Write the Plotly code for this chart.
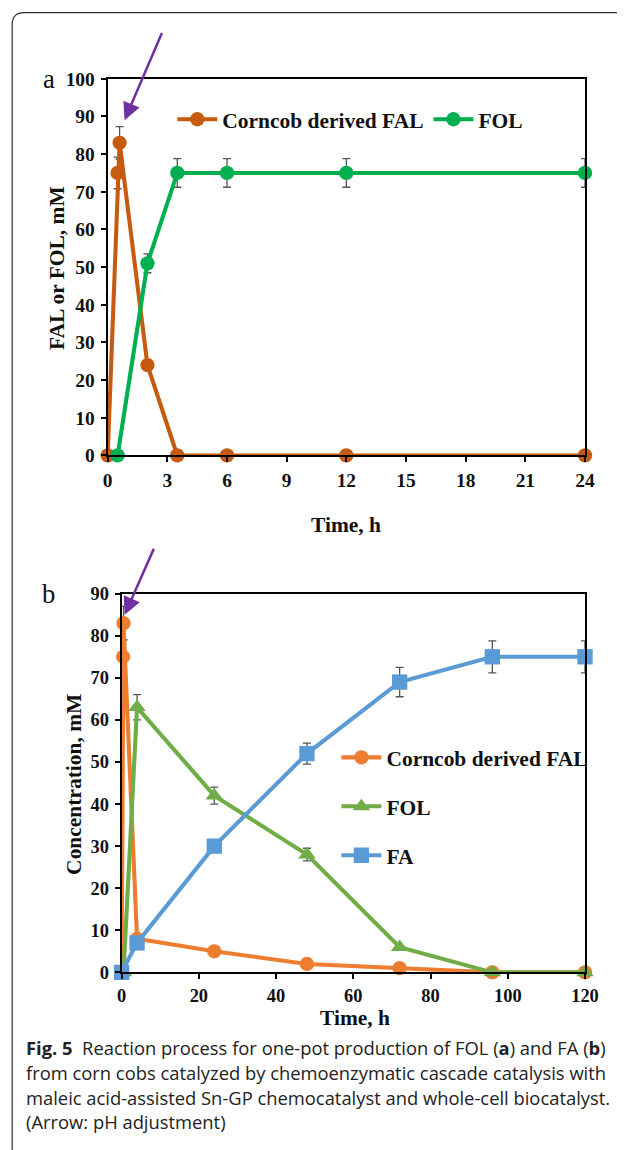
import plotly.graph_objects as go

# ---------------- data ----------------
# Panel a
a_fal_t = [0, 0.5, 0.6, 2, 3.5, 6, 12, 24]
a_fal_y = [0, 75, 83, 24, 0, 0, 0, 0]
a_fal_err = [0, 4.2, 4.3, 0, 0, 0, 0, 0]
a_fol_t = [0.5, 2, 3.5, 6, 12, 24]
a_fol_y = [0, 51, 75, 75, 75, 75]
a_fol_err = [0, 2.5, 3.8, 3.8, 3.8, 3.8]
a_xticks = [0, 3, 6, 9, 12, 15, 18, 21, 24]
a_yticks = [0, 10, 20, 30, 40, 50, 60, 70, 80, 90, 100]

# Panel b
b_fal_t = [0, 0.4, 0.5, 4, 24, 48, 72, 96, 120]
b_fal_y = [0, 75, 83, 8, 5, 2, 1, 0, 0]
b_fal_err = [0, 4, 4, 0, 0, 0, 0, 0, 0]
b_fol_t = [0.5, 4, 24, 48, 72, 96, 120]
b_fol_y = [0, 63, 42, 28, 6, 0, 0]
b_fol_err = [0, 3, 2, 1.5, 0, 0, 0]
b_fa_t = [0, 4, 24, 48, 72, 96, 120]
b_fa_y = [0, 7, 30, 52, 69, 75, 75]
b_fa_err = [0, 0, 0, 2.5, 3.5, 3.8, 3.8]
b_xticks = [0, 20, 40, 60, 80, 100, 120]
b_yticks = [0, 10, 20, 30, 40, 50, 60, 70, 80, 90]

caption_lines = [
    "<b>Fig. 5</b>&nbsp;&nbsp;Reaction process for one-pot production of FOL (<b>a</b>) and FA (<b>b</b>)",
    "from corn cobs catalyzed by chemoenzymatic cascade catalysis with",
    "maleic acid-assisted Sn-GP chemocatalyst and whole-cell biocatalyst.",
    "(Arrow: pH adjustment)",
]

# ---------------- layout helpers ----------------
FW, FH = 625, 1150
BODY = 8
SX, OX = 0.975, 3.0     # page -> picture mapping observed in the renderer
SY, OY = 0.98, 10.5
K = 1 / 0.9775          # size compensation


def fx(xr):
    return ((xr - OX) / SX - BODY) / FW


def fy(yr):
    return 1 - ((yr - OY) / SY - BODY) / FH


def s(v):
    return v * K


SERIF = "Liberation Serif, Times New Roman, serif"
C_A_FAL = "#C55A11"
C_A_FOL = "#00B050"
C_B_FAL = "#ED7D31"
C_B_FOL = "#70AD47"
C_B_FA = "#5B9BD5"
ERR_C = "#555555"
PURPLE = "#7030A0"
TXT = "#111111"

fig = go.Figure()


def err(arr):
    return dict(type="data", array=arr, visible=True, color=ERR_C, thickness=1.3, width=4)


LW = s(4)
fig.add_trace(go.Scatter(x=a_fal_t, y=a_fal_y, name="Corncob derived FAL", mode="lines+markers",
                         line=dict(color=C_A_FAL, width=LW), marker=dict(size=s(14), color=C_A_FAL),
                         error_y=err(a_fal_err), xaxis="x", yaxis="y", legend="legend",
                         cliponaxis=False))
fig.add_trace(go.Scatter(x=a_fol_t, y=a_fol_y, name="FOL", mode="lines+markers",
                         line=dict(color=C_A_FOL, width=LW), marker=dict(size=s(14), color=C_A_FOL),
                         error_y=err(a_fol_err), xaxis="x", yaxis="y", legend="legend",
                         cliponaxis=False))

fig.add_trace(go.Scatter(x=b_fal_t, y=b_fal_y, name="Corncob derived FAL", mode="lines+markers",
                         line=dict(color=C_B_FAL, width=LW), marker=dict(size=s(14), color=C_B_FAL),
                         error_y=err(b_fal_err), xaxis="x2", yaxis="y2", legend="legend2",
                         legendgroup="g1", cliponaxis=False))
fig.add_trace(go.Scatter(x=b_fol_t, y=b_fol_y, name="FOL", mode="lines+markers",
                         line=dict(color=C_B_FOL, width=LW),
                         marker=dict(size=s(15), color=C_B_FOL, symbol="triangle-up"),
                         error_y=err(b_fol_err), xaxis="x2", yaxis="y2", legend="legend2",
                         legendgroup="g2", cliponaxis=False))
fig.add_trace(go.Scatter(x=b_fa_t, y=b_fa_y, name="FA", mode="lines+markers",
                         line=dict(color=C_B_FA, width=LW),
                         marker=dict(size=s(15), color=C_B_FA, symbol="square"),
                         error_y=err(b_fa_err), xaxis="x2", yaxis="y2", legend="legend2",
                         legendgroup="g3", cliponaxis=False))


def axis_style(size):
    return dict(showline=True, linecolor="black", linewidth=2, mirror=True, ticks="outside",
                ticklen=5, tickwidth=2, tickcolor="black", showgrid=False, zeroline=False,
                tickfont=dict(family=SERIF, size=s(size), color=TXT, weight="bold"))


legfont = dict(family=SERIF, size=s(21), color=TXT, weight="bold")
fig.update_layout(
    width=FW, height=FH, margin=dict(l=0, r=0, t=0, b=0),
    paper_bgcolor="white", plot_bgcolor="white",
    xaxis=dict(domain=[fx(106), fx(586)], range=[0, 24], tickvals=a_xticks, anchor="y",
               ticklabelstandoff=1, **axis_style(19)),
    yaxis=dict(domain=[fy(455), fy(79)], range=[0, 100], tickvals=a_yticks, anchor="x",
               ticklabelstandoff=2, **axis_style(19)),
    xaxis2=dict(domain=[fx(120), fx(586)], range=[0, 120], tickvals=b_xticks, anchor="y2",
                ticklabelstandoff=1, **axis_style(18)),
    yaxis2=dict(domain=[fy(971), fy(593)], range=[0, 90], tickvals=b_yticks, anchor="x2",
                ticklabelstandoff=2, **axis_style(18)),
    legend=dict(orientation="h", x=fx(171), y=fy(99), xanchor="left", yanchor="top",
                font=legfont, bgcolor="rgba(0,0,0,0)", itemwidth=40, tracegroupgap=0),
    legend2=dict(orientation="v", x=fx(336), y=fy(736), xanchor="left", yanchor="top",
                 font=legfont, bgcolor="rgba(0,0,0,0)", itemwidth=40, tracegroupgap=18),
    showlegend=True,
)


def label(text, x, y, size, angle=0, family=SERIF, color=TXT, xanchor="center"):
    return dict(text=text, x=fx(x), y=fy(y), xref="paper", yref="paper", showarrow=False,
                textangle=angle, xanchor=xanchor, yanchor="middle",
                font=dict(family=family, size=s(size), color=color))


annotations = [
    label("a", 47, 79, 26),
    label("b", 47, 593, 26),
    label("<b>FAL or FOL, mM</b>", 55, 268, 21, angle=-90),
    label("<b>Concentration, mM</b>", 72, 783, 21, angle=-90),
    label("<b>Time, h</b>", 346, 524, 21),
    label("<b>Time, h</b>", 355, 1017, 21),
    # pH adjustment arrows
    dict(x=0.85, y=89, xref="x", yref="y", ax=37 / SX, ay=-87 / SY, showarrow=True,
         arrowhead=2, arrowsize=1.4, arrowwidth=2.5, arrowcolor=PURPLE, text=""),
    dict(x=0.8, y=85, xref="x2", yref="y2", ax=29 / SX, ay=-66 / SY, showarrow=True,
         arrowhead=2, arrowsize=1.4, arrowwidth=2.5, arrowcolor=PURPLE, text=""),
]
cap_y = [1046, 1071, 1096, 1120]
for line, yy in zip(caption_lines, cap_y):
    annotations.append(label(line, 22, yy, 17.95, family="Open Sans, sans-serif",
                             color="#222222", xanchor="left"))
fig.update_layout(annotations=annotations)

# rounded frame around the figure panel
r = 12
x0, y0, x1, y1 = 10, 13, 700, 1200
path = (f"M {fx(x0)},{fy(y0 + r)} Q {fx(x0)},{fy(y0)} {fx(x0 + r)},{fy(y0)} "
        f"L {fx(x1)},{fy(y0)} L {fx(x1)},{fy(y1)} L {fx(x0)},{fy(y1)} Z")
fig.add_shape(type="path", path=path, xref="paper", yref="paper",
              line=dict(color="#333333", width=1.2), layer="below")

fig.write_html("out.html")
